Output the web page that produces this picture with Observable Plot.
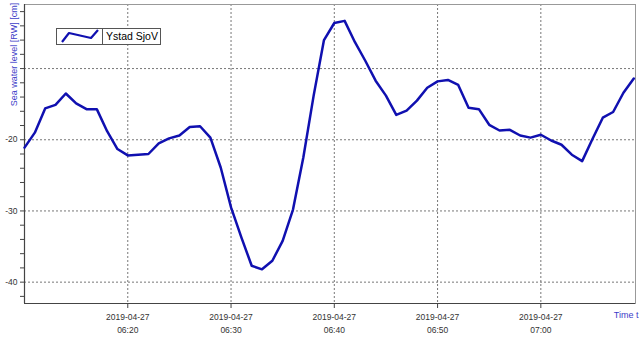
<!DOCTYPE html>
<html>
<head>
<meta charset="utf-8">
<script src="https://cdn.jsdelivr.net/npm/d3@7"></script>
<script src="https://cdn.jsdelivr.net/npm/@observablehq/plot@0.6"></script>
<style>
  body { margin: 0; background: #fff; }
  #wrap { position: relative; width: 639px; height: 338px; font-family: "Liberation Sans", Arial, sans-serif; }
  #legend { position: absolute; left: 56px; top: 28px; width: 103px; height: 15px; border: 1px solid #555; background: #fff; display: flex; }
  #legend .sw { width: 45px; border-right: 1px solid #555; }
  #legend .lb { font-size: 10.5px; color: #000; padding-left: 3px; line-height: 15px; }
</style>
</head>
<body>
<div id="wrap"></div>
<script>
const seriesName = "Ystad SjoV";
const yLabelText = "Sea water level [RW] [cm]";
const xLabelText = "Time t";
const day = "2019-04-27";
const times = [
  "06:10","06:11","06:12","06:13","06:14","06:15","06:16","06:17","06:18","06:19",
  "06:20","06:21","06:22","06:23","06:24","06:25","06:26","06:27","06:28","06:29",
  "06:30","06:31","06:32","06:33","06:34","06:35","06:36","06:37","06:38","06:39",
  "06:40","06:41","06:42","06:43","06:44","06:45","06:46","06:47","06:48","06:49",
  "06:50","06:51","06:52","06:53","06:54","06:55","06:56","06:57","06:58","06:59",
  "07:00","07:01","07:02","07:03","07:04","07:05","07:06","07:07","07:08","07:09"
];
const values = [
  -21.1,-19.0,-15.6,-15.1,-13.5,-14.9,-15.7,-15.7,-18.8,-21.3,
  -22.2,-22.1,-22.0,-20.5,-19.8,-19.4,-18.2,-18.1,-19.7,-23.9,
  -29.5,-33.7,-37.7,-38.2,-37.0,-34.2,-29.8,-22.5,-13.8,-6.0,
  -3.6,-3.3,-6.3,-8.9,-11.7,-13.8,-16.5,-15.9,-14.5,-12.7,
  -11.8,-11.6,-12.3,-15.5,-15.7,-17.9,-18.7,-18.6,-19.4,-19.7,
  -19.3,-20.1,-20.7,-22.1,-23.0,-19.9,-16.9,-16.1,-13.4,-11.4
];
const xTickTimes = ["06:20","06:30","06:40","06:50","07:00"];
const xDomainTimes = ["06:10:00","07:09:10"];
const yDomain = [-43, -1];
const yMinorTicks = [-42,-40,-38,-36,-34,-32,-30,-28,-26,-24,-22,-20,-18,-16,-14,-12,-10,-8,-6,-4,-2];
const yGridValues = [-10, -20, -30, -40];
const yLabelValues = [-20, -30, -40];

const toDate = t => new Date(`${day}T${t.length === 5 ? t + ":00" : t}Z`);
const data = times.map((t, i) => ({date: toDate(t), value: values[i]}));
const xTicks = xTickTimes.map(toDate);
const xDomain = xDomainTimes.map(toDate);
const fmt = d3.utcFormat("%Y-%m-%d\n%H:%M");

const chart = Plot.plot({
  width: 639, height: 338,
  marginLeft: 24, marginRight: 4, marginTop: 4, marginBottom: 35,
  style: {fontFamily: "'Liberation Sans', Arial, sans-serif", fontSize: "8.5px", color: "#333", background: "#fff", overflow: "visible"},
  x: {type: "utc", domain: xDomain, label: null},
  y: {domain: yDomain, label: null},
  marks: [
    Plot.gridY(yGridValues, {stroke: "#777", strokeOpacity: 1, strokeDasharray: "2,2"}),
    Plot.gridX(xTicks, {stroke: "#777", strokeOpacity: 1, strokeDasharray: "2,2"}),
    Plot.frame({stroke: "#999"}),
    Plot.ruleY([yDomain[0]], {stroke: "#444", strokeWidth: 1.2}),
    Plot.ruleX([xDomain[0]], {stroke: "#444", strokeWidth: 1.2}),
    Plot.axisY({ticks: yMinorTicks, tickSize: 4, tickPadding: 3, label: null,
      tickFormat: d => yLabelValues.includes(d) ? String(d) : "", stroke: "#444", fill: "#333"}),
    Plot.axisX({ticks: xTicks, tickSize: 5, tickPadding: 3, label: null,
      tickFormat: fmt, lineHeight: 1.45, stroke: "#444", fill: "#333"}),
    Plot.line(data, {x: "date", y: "value", stroke: "#1010b0", strokeWidth: 2.5, strokeLinejoin: "round"}),
    Plot.text([yLabelText], {frameAnchor: "top-left", rotate: -90, dx: -14, dy: 50, textAnchor: "middle", fill: "#4040c8", fontSize: 9}),
    Plot.text([xLabelText], {frameAnchor: "bottom-right", dx: 3, dy: 14, textAnchor: "end", fill: "#3c3cc8", fontSize: 9})
  ]
});

const wrap = document.getElementById("wrap");
wrap.appendChild(chart);
const legend = document.createElement("div");
legend.id = "legend";
legend.innerHTML = `<div class="sw"><svg width="45" height="15"><polyline points="5,13 12,4 34,9 41,1" fill="none" stroke="#1010b0" stroke-width="2.2" stroke-linejoin="round"/></svg></div><div class="lb">${seriesName}</div>`;
wrap.appendChild(legend);
</script>
</body>
</html>
